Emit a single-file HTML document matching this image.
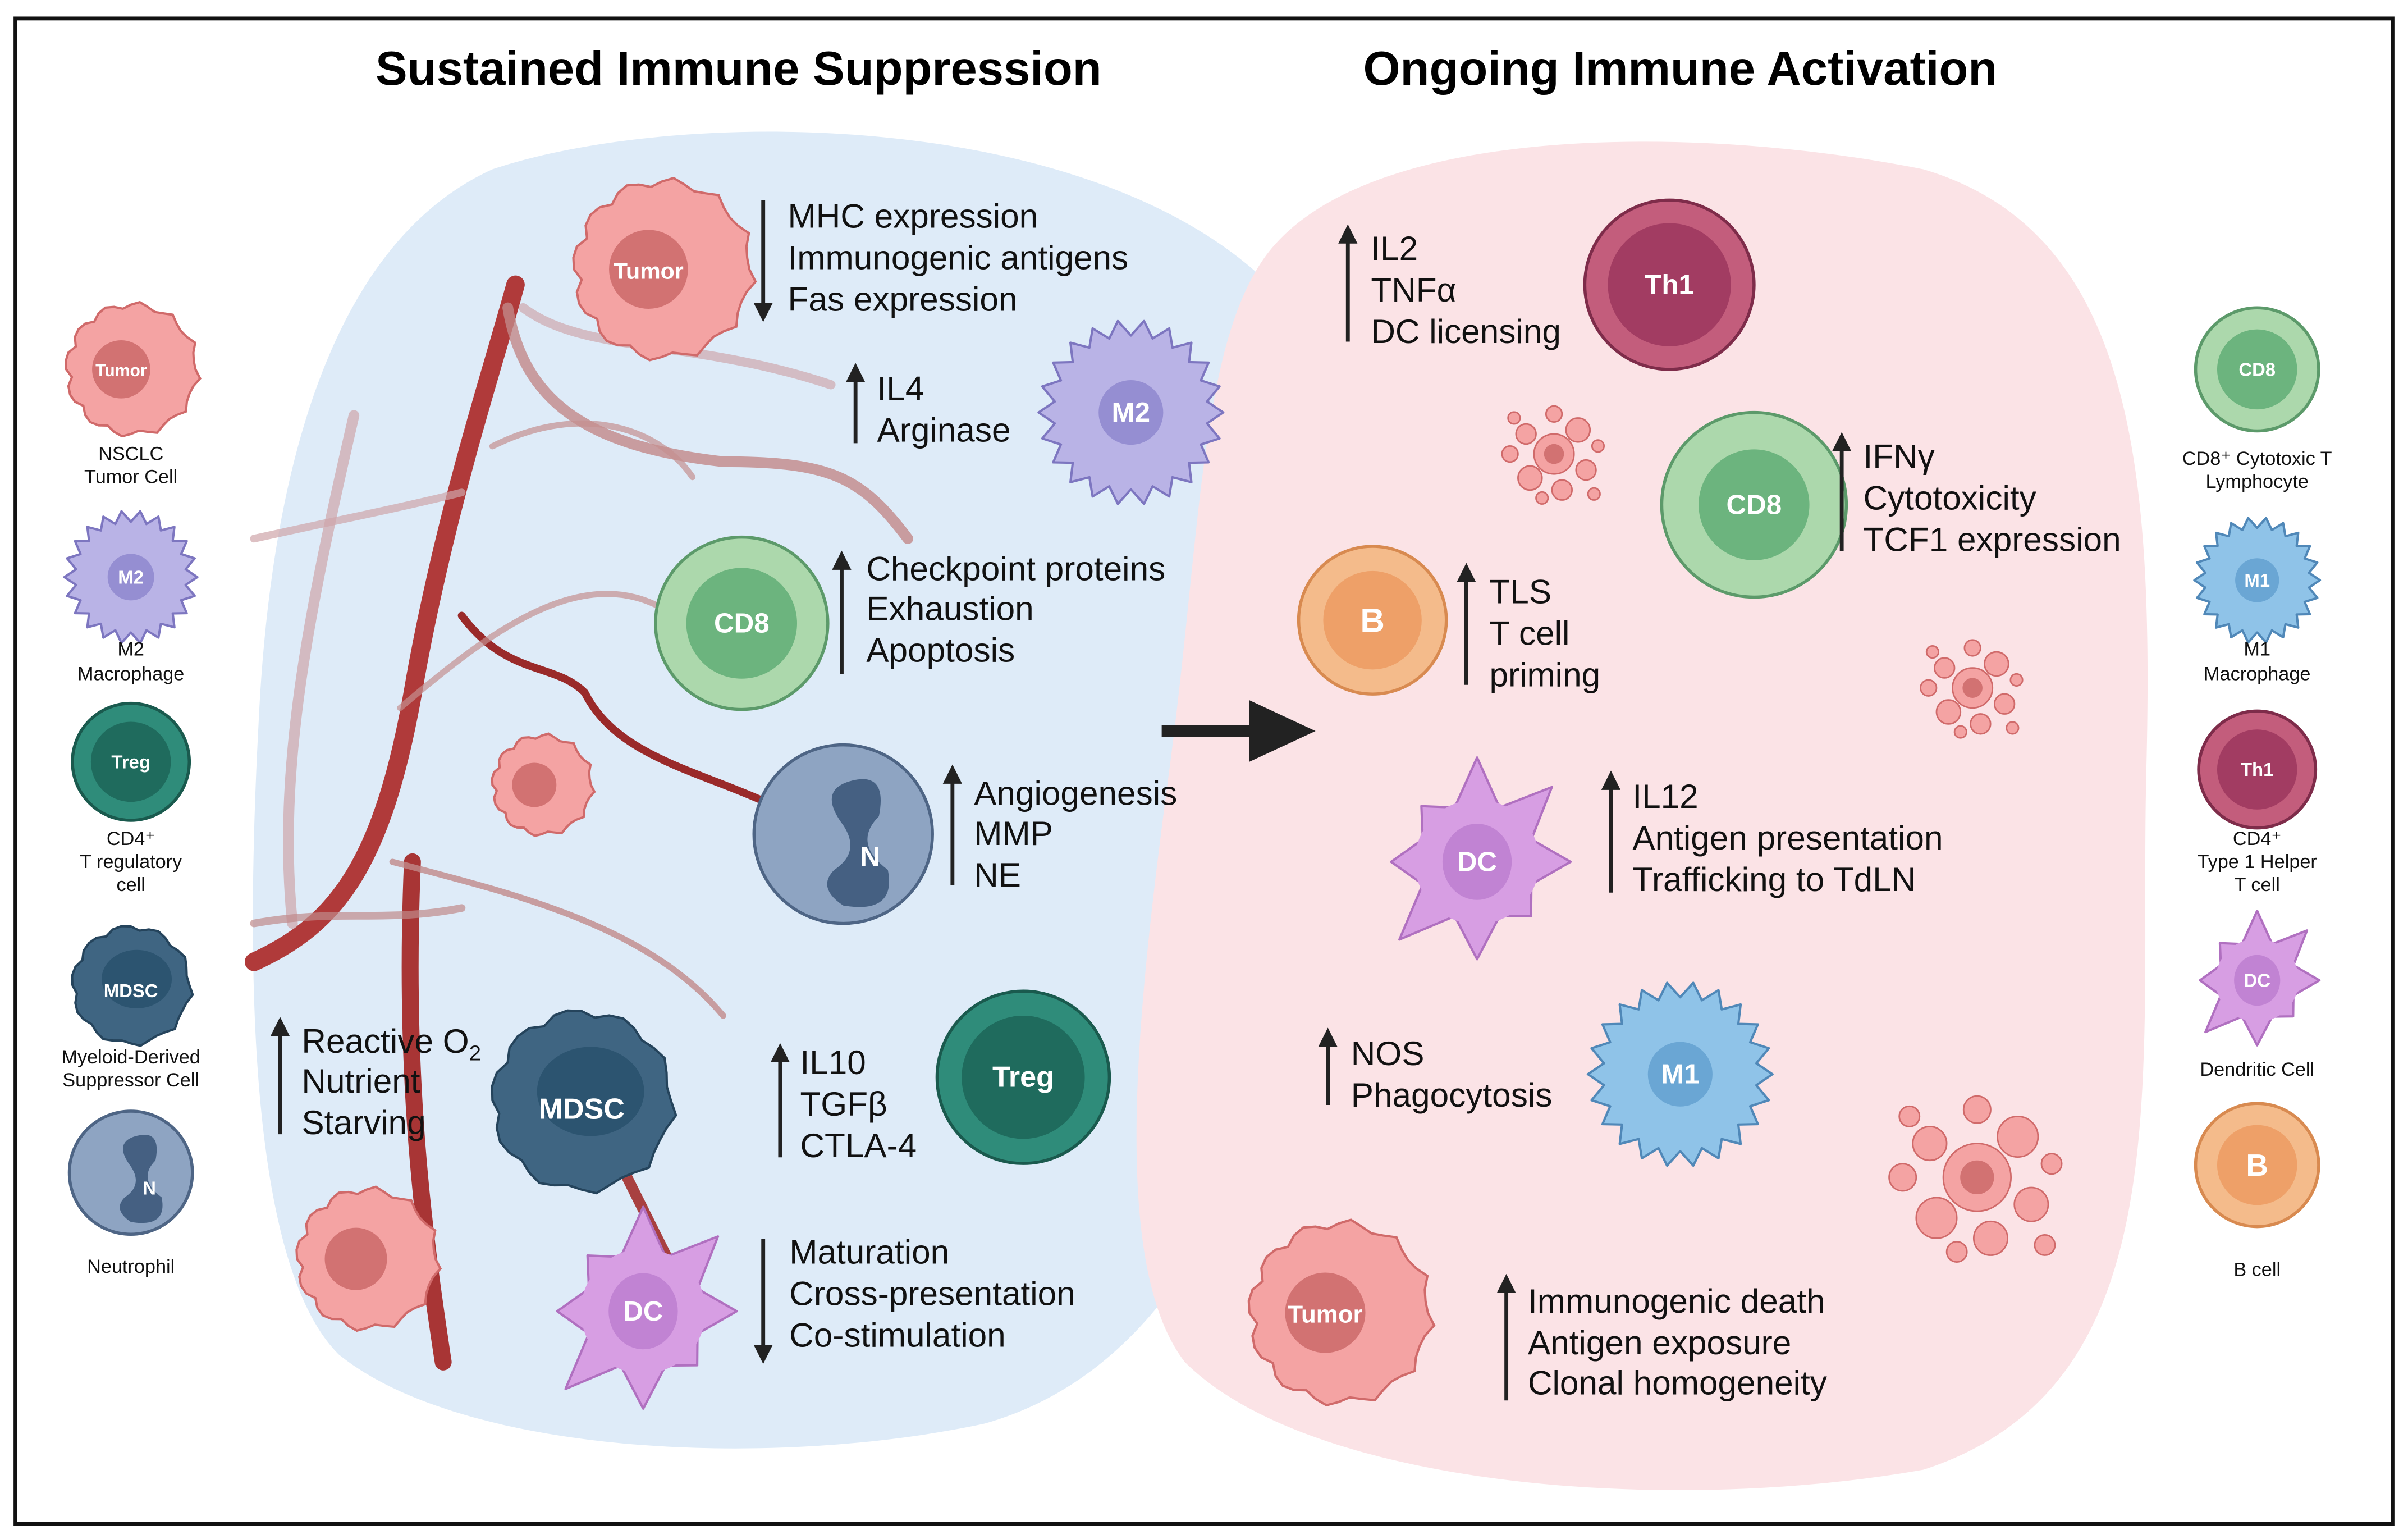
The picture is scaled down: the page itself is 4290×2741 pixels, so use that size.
<!DOCTYPE html>
<html><head><meta charset="utf-8"><style>
html,body{margin:0;padding:0;background:#fff;}
svg{display:block;}
text{font-family:"Liberation Sans",sans-serif;}
.t{font-size:22px;fill:#111;}
.lg{font-size:12.5px;fill:#111;text-anchor:middle;}
.cl{font-weight:bold;fill:#fff;text-anchor:middle;dominant-baseline:central;}
</style></head><body>
<svg id="s" width="4290" height="2741" viewBox="0 0 1565 1000" xmlns="http://www.w3.org/2000/svg">
<defs>
<marker id="ah" viewBox="0 0 10 10" refX="5" refY="5" markerWidth="5" markerHeight="5" orient="auto-start-reverse"><path d="M0,0 L10,5 L0,10 z" fill="#222"/></marker>
</defs>
<rect x="10" y="12" width="1545" height="978" fill="#fff" stroke="#111" stroke-width="2.5"/>
<text x="480" y="55" font-size="31" font-weight="bold" text-anchor="middle">Sustained Immune Suppression</text>
<text x="1092" y="55" font-size="31" font-weight="bold" text-anchor="middle">Ongoing Immune Activation</text>
<path d="M320 110 C440 70,700 70,820 180 C860 250,835 400,845 500 C855 660,800 880,640 925 C500 955,300 945,220 880 C160 820,160 620,168 470 C175 320,210 160,320 110 Z" fill="#deebf8"/>
<path d="M820 170 C880 80,1100 80,1250 110 C1385 150,1400 300,1395 500 C1390 700,1420 900,1250 955 C1080 985,850 965,770 885 C720 820,740 650,760 500 C780 350,780 230,820 170 Z" fill="#fbe3e6"/>
<g fill="none" stroke-linecap="round">
<path d="M165 625 C220 600,250 560,270 440 C290 330,320 240,335 185" stroke="#b03a3a" stroke-width="12"/>
<path d="M288 885 C275 800,262 700,268 560" stroke="#a83535" stroke-width="11"/>
<path d="M300 400 C330 440,360 430,380 450 C400 490,450 500,495 520" stroke="#9a2a2a" stroke-width="5"/>
<path d="M330 200 C340 260,380 290,470 300 C540 300,560 310,590 350" stroke="#c28888" stroke-width="7" opacity=".8"/>
<path d="M340 200 C380 230,450 220,540 250" stroke="#cfb0b6" stroke-width="6" opacity=".8"/>
<path d="M255 560 C330 580,420 600,470 660" stroke="#c08a8a" stroke-width="4" opacity=".8"/>
<path d="M230 270 C200 400,180 500,190 600" stroke="#cfa5aa" stroke-width="7" opacity=".7"/>
<path d="M260 460 C330 400,400 350,460 420" stroke="#c59090" stroke-width="4" opacity=".7"/>
<path d="M165 350 C210 340,260 330,300 320" stroke="#cfa5aa" stroke-width="5" opacity=".7"/>
<path d="M320 290 C380 260,430 280,450 310" stroke="#c59090" stroke-width="4" opacity=".7"/>
<path d="M400 750 C420 790,430 810,440 830" stroke="#a84040" stroke-width="7"/>
<path d="M165 600 C220 590,250 600,300 590" stroke="#c08a8a" stroke-width="5" opacity=".7"/>
</g>
<g id="cells"></g>
<g fill="#111" class="t">
<text class="t" x="512" y="148">MHC expression</text><text class="t" x="512" y="175">Immunogenic antigens</text><text class="t" x="512" y="202">Fas expression</text>
<text class="t" x="570" y="260">IL4</text><text class="t" x="570" y="287">Arginase</text>
<text class="t" x="563" y="377">Checkpoint proteins</text><text class="t" x="563" y="403">Exhaustion</text><text class="t" x="563" y="430">Apoptosis</text>
<text class="t" x="633" y="523">Angiogenesis</text><text class="t" x="633" y="549">MMP</text><text class="t" x="633" y="576">NE</text>
<text class="t" x="196" y="684">Reactive O<tspan font-size="14" dy="5">2</tspan></text><text class="t" x="196" y="710">Nutrient</text><text class="t" x="196" y="737">Starving</text>
<text class="t" x="520" y="698">IL10</text><text class="t" x="520" y="725">TGFβ</text><text class="t" x="520" y="752">CTLA-4</text>
<text class="t" x="513" y="821">Maturation</text><text class="t" x="513" y="848">Cross-presentation</text><text class="t" x="513" y="875">Co-stimulation</text>
<text class="t" x="891" y="169">IL2</text><text class="t" x="891" y="196">TNFα</text><text class="t" x="891" y="223">DC licensing</text>
<text class="t" x="1211" y="304">IFNγ</text><text class="t" x="1211" y="331">Cytotoxicity</text><text class="t" x="1211" y="358">TCF1 expression</text>
<text class="t" x="968" y="392">TLS</text><text class="t" x="968" y="419">T cell</text><text class="t" x="968" y="446">priming</text>
<text class="t" x="1061" y="525">IL12</text><text class="t" x="1061" y="552">Antigen presentation</text><text class="t" x="1061" y="579">Trafficking to TdLN</text>
<text class="t" x="878" y="692">NOS</text><text class="t" x="878" y="719">Phagocytosis</text>
<text class="t" x="993" y="853">Immunogenic death</text><text class="t" x="993" y="880">Antigen exposure</text><text class="t" x="993" y="906">Clonal homogeneity</text>
</g>
<g stroke="#222" stroke-width="2.5" marker-end="url(#ah)">
<line x1="496" y1="130" x2="496" y2="203"/>
<line x1="556" y1="288" x2="556" y2="242"/>
<line x1="547" y1="438" x2="547" y2="364"/>
<line x1="619" y1="575" x2="619" y2="503"/>
<line x1="182" y1="737" x2="182" y2="667"/>
<line x1="507" y1="752" x2="507" y2="684"/>
<line x1="496" y1="805" x2="496" y2="880"/>
<line x1="876" y1="222" x2="876" y2="152"/>
<line x1="1197" y1="358" x2="1197" y2="287"/>
<line x1="953" y1="445" x2="953" y2="372"/>
<line x1="1047" y1="580" x2="1047" y2="507"/>
<line x1="863" y1="718" x2="863" y2="674"/>
<line x1="979" y1="910" x2="979" y2="834"/>
</g>
<line x1="755" y1="475" x2="815" y2="475" stroke="#222" stroke-width="8"/>
<path d="M812 455 L855 475 L812 495 Z" fill="#222"/>
<g class="lg">
<text class="lg" x="85" y="299">NSCLC</text><text class="lg" x="85" y="314">Tumor Cell</text>
<text class="lg" x="85" y="426">M2</text><text class="lg" x="85" y="442">Macrophage</text>
<text class="lg" x="85" y="549">CD4⁺</text><text class="lg" x="85" y="564">T regulatory</text><text class="lg" x="85" y="579">cell</text>
<text class="lg" x="85" y="691">Myeloid-Derived</text><text class="lg" x="85" y="706">Suppressor Cell</text>
<text class="lg" x="85" y="827">Neutrophil</text>
<text class="lg" x="1467" y="302">CD8⁺ Cytotoxic T</text><text class="lg" x="1467" y="317">Lymphocyte</text>
<text class="lg" x="1467" y="426">M1</text><text class="lg" x="1467" y="442">Macrophage</text>
<text class="lg" x="1467" y="549">CD4⁺</text><text class="lg" x="1467" y="564">Type 1 Helper</text><text class="lg" x="1467" y="579">T cell</text>
<text class="lg" x="1467" y="699">Dendritic Cell</text>
<text class="lg" x="1467" y="829">B cell</text>
</g>
</svg>
<script>
var g=document.getElementById('cells'),NS='http://www.w3.org/2000/svg';
function el(t,a,txt){var e=document.createElementNS(NS,t);for(var k in a)e.setAttribute(k,a[k]);if(txt){e.textContent=txt;}g.appendChild(e);return e;}
function spiky(cx,cy,r,n,amp,fill,stroke){var p='';for(var i=0;i<n*2;i++){var a=i*Math.PI/n,rr=(i%2?r:r+amp);p+=(i?'L':'M')+(cx+rr*Math.cos(a)).toFixed(1)+','+(cy+rr*Math.sin(a)).toFixed(1);}el('path',{d:p+'Z',fill:fill,stroke:stroke,'stroke-width':1.5,'stroke-linejoin':'round'});}
function wavy(cx,cy,r,n,amp,fill,stroke){var p='';for(var i=0;i<=n*4;i++){var a=i*Math.PI*2/(n*4),rr=r+amp*Math.sin(i*Math.PI/2)*(0.6+0.4*Math.sin(i*1.7));p+=(i?'L':'M')+(cx+rr*Math.cos(a)).toFixed(1)+','+(cy+rr*Math.sin(a)).toFixed(1);}el('path',{d:p+'Z',fill:fill,stroke:stroke,'stroke-width':1.5});}
function tumor(cx,cy,r,lab,fs){wavy(cx,cy,r,12,r*0.08,'#f4a3a3','#d06a6a');el('circle',{cx:cx-r*.15,cy:cy,r:r*.45,fill:'#d27272'});if(lab)el('text',{x:cx-r*.15,y:cy+1,class:'cl','font-size':fs},lab);}
function ring(cx,cy,r,ri,o,i,s,lab,fs){el('circle',{cx:cx,cy:cy,r:r,fill:o,stroke:s,'stroke-width':2});el('circle',{cx:cx,cy:cy,r:ri,fill:i});if(lab)el('text',{x:cx,y:cy,class:'cl','font-size':fs},lab);}
function mac(cx,cy,r,o,i,s,lab,fs){spiky(cx,cy,r,22,r*0.2,o,s);el('circle',{cx:cx,cy:cy,r:r*.42,fill:i});el('text',{x:cx,y:cy,class:'cl','font-size':fs},lab);}
function dc(cx,cy,r,lab,fs){var p='',n=16;for(var i=0;i<n;i++){var a=i*Math.PI*2/n,rr=(i%2?r*0.85:r*(1.35+0.25*Math.sin(i*2.3)));p+=(i?'L':'M')+(cx+rr*Math.cos(a)).toFixed(1)+','+(cy+rr*Math.sin(a)).toFixed(1);}el('path',{d:p+'Z',fill:'#d79ee3',stroke:'#b070c0','stroke-width':1.5,'stroke-linejoin':'round'});el('circle',{cx:cx,cy:cy,r:r*.9,fill:'#d79ee3'});el('ellipse',{cx:cx,cy:cy,rx:r*.5,ry:r*.55,fill:'#c183d3'});el('text',{x:cx,y:cy,class:'cl','font-size':fs},lab);}
function neut(cx,cy,r,lab,fs){el('circle',{cx:cx,cy:cy,r:r,fill:'#8ea4c2',stroke:'#4e6585','stroke-width':2});el('path',{d:'M'+(cx+r*.1)+','+(cy-r*.6)+' q'+(r*.4)+','+(-r*.1)+' '+(r*.3)+','+(r*.4)+' q'+(-r*.3)+','+(r*.3)+' '+(r*.1)+','+(r*.6)+' q'+(r*.1)+','+(r*.5)+' '+(-r*.5)+','+(r*.4)+' q'+(-r*.3)+','+(-r*.2)+' '+(-r*.1)+','+(-r*.4)+' q'+(r*.3)+','+(-r*.2)+' '+(r*.1)+','+(-r*.5)+' q'+(-r*.3)+','+(-r*.4)+' '+(r*.1)+','+(-r*.5)+'z',fill:'#456082'});el('text',{x:cx+r*.3,y:cy+r*.25,class:'cl','font-size':fs},lab);}
function mdsc(cx,cy,r,lab,fs){wavy(cx,cy,r,10,r*0.07,'#3f6582','#25445c');el('ellipse',{cx:cx+r*.1,cy:cy-r*.1,rx:r*.6,ry:r*.5,fill:'#2c5470'});el('text',{x:cx,y:cy+r*.1,class:'cl','font-size':fs},lab);}
function debris(cx,cy,s){var pts=[[0,0,10],[-14,-10,5],[12,-12,6],[16,8,5],[-12,12,6],[0,-20,4],[-22,0,4],[22,-4,3],[4,18,5],[-6,22,3],[20,20,3],[-20,-18,3]];pts.forEach(function(p){el('circle',{cx:cx+p[0]*s,cy:cy+p[1]*s,r:p[2]*s,fill:'#f4a3a3',stroke:'#d06a6a','stroke-width':1});});el('circle',{cx:cx,cy:cy,r:5*s,fill:'#d27272'});}
tumor(430,175,57,'Tumor',15);
mac(735,268,50,'#b9b3e6','#958ed2','#7d76c0','M2',18);
ring(482,405,56,36,'#acd8ac','#6cb47e','#5c9a6a','CD8',18);
neut(548,542,58,'N',18);
tumor(352,510,32,'',0);
mdsc(378,715,58,'MDSC',19);
ring(665,700,56,40,'#2f8c7a','#1f6b5d','#1a5a4e','Treg',19);
tumor(238,818,45,'',0);
dc(418,852,45,'DC',18);
ring(1085,185,55,40,'#c35d7c','#a23c62','#7e2c4a','Th1',18);
debris(1010,295,1.3);
ring(1140,328,60,36,'#acd8ac','#6cb47e','#5c9a6a','CD8',18);
ring(892,403,48,32,'#f4bb8b','#eea068','#d88a50','B',22);
debris(1282,447,1.3);
dc(960,560,45,'DC',18);
mac(1092,698,50,'#8fc3e8','#6aa6d4','#5088b8','M1',18);
debris(1285,765,2.2);
tumor(870,853,58,'Tumor',16);
tumor(85,240,42,'Tumor',11);
mac(85,375,36,'#b9b3e6','#958ed2','#7d76c0','M2',12);
ring(85,495,38,26,'#2f8c7a','#1f6b5d','#1a5a4e','Treg',12);
mdsc(85,640,38,'MDSC',12);
neut(85,762,40,'N',12);
ring(1467,240,40,26,'#acd8ac','#6cb47e','#5c9a6a','CD8',12);
mac(1467,377,34,'#8fc3e8','#6aa6d4','#5088b8','M1',12);
ring(1467,500,38,26,'#c35d7c','#a23c62','#7e2c4a','Th1',12);
dc(1467,637,30,'DC',12);
ring(1467,757,40,26,'#f4bb8b','#eea068','#d88a50','B',20);
</script>
</body></html>
